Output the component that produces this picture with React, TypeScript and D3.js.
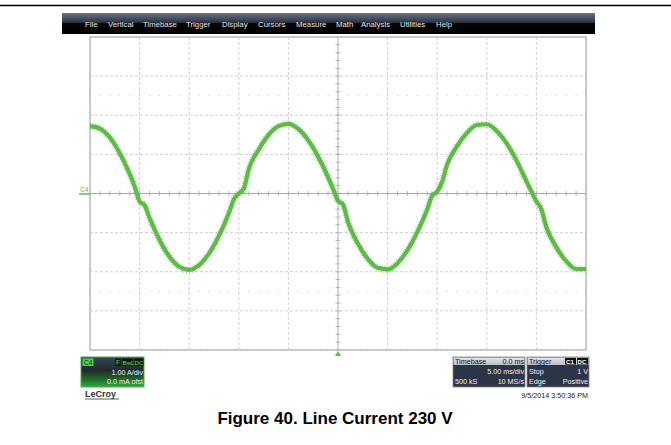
import React from "react";
import * as d3 from "d3";

// Time (ms) across 10 divisions of 5 ms/div, current in A (1 A/div)
const timeMs = [0,1,2,3,4,4.5,5,5.5,6,7,8,9,10,11,12,13,14,14.5,15,15.5,16,17,18,19,20,21,22,23,24,24.5,25,25.5,26,27,28,29,30,31,32,33,34,34.5,35,35.5,36,37,38,39,40,41,42,43,44,44.5,45,45.5,46,47,48,49,50];
const currentA = [1.72,1.66,1.43,1.03,0.50,0.18,-0.20,-0.30,-0.62,-1.18,-1.61,-1.87,-1.95,-1.83,-1.53,-1.08,-0.50,-0.15,0.0,0.12,0.62,1.12,1.50,1.72,1.78,1.65,1.36,0.94,0.42,0.12,-0.18,-0.28,-0.72,-1.28,-1.67,-1.90,-1.94,-1.78,-1.45,-0.98,-0.40,-0.05,0.05,0.30,0.74,1.21,1.55,1.75,1.77,1.60,1.28,0.84,0.31,0.05,-0.20,-0.40,-0.86,-1.37,-1.73,-1.93,-1.93];

const xDivTicks = [0,5,10,15,20,25,30,35,40,45,50];
const yDivTicks = [-4,-3,-2,-1,0,1,2,3,4];
const menuItems = ["File","Vertical","Timebase","Trigger","Display","Cursors","Measure","Math","Analysis","Utilities","Help"];
const menuX = [85,108,143,186,222,258,296,336,361,400,436];
const caption = "Figure 40. Line Current 230 V";

const W = 671, H = 445;
const GREEN = "#60b949";
const FONT = "'Liberation Sans', Arial, sans-serif";

export default function App() {
  const x = d3.scaleLinear().domain([0, 50]).range([90, 586]);
  const y = d3.scaleLinear().domain([-4, 4]).range([350, 37]);
  const pts = timeMs.map((t, i) => [t, currentA[i]] as [number, number]);
  const line = d3.line<[number, number]>().x(d => x(d[0])).y(d => y(d[1])).curve(d3.curveMonotoneX);
  const path = line(pts) || "";

  const minorX = d3.range(0, 50.001, 1); // 1/5 div
  const minorY = d3.range(-4, 4.001, 0.2);

  return (
    <svg width={W} height={H} style={{ position: "absolute", left: 0, top: 0, background: "#fff" }} fontFamily={FONT}>
      <defs>
        <linearGradient id="menuG" x1="0" y1="0" x2="0" y2="1">
          <stop offset="0" stopColor="#6a7488" />
          <stop offset="0.45" stopColor="#2c3240" />
          <stop offset="0.5" stopColor="#050505" />
          <stop offset="1" stopColor="#000" />
        </linearGradient>
        <linearGradient id="chG" x1="0" y1="0" x2="0" y2="1">
          <stop offset="0" stopColor="#3a4656" />
          <stop offset="0.45" stopColor="#1f2a2e" />
          <stop offset="0.75" stopColor="#1f6a2c" />
          <stop offset="1" stopColor="#2fae3a" />
        </linearGradient>
        <linearGradient id="hdrG" x1="0" y1="0" x2="0" y2="1">
          <stop offset="0" stopColor="#e4e7ec" />
          <stop offset="1" stopColor="#b8bdc6" />
        </linearGradient>
        <clipPath id="plotClip"><rect x={90} y={37} width={496} height={313} /></clipPath>
      </defs>

      <line x1={0} x2={W} y1={5.5} y2={5.5} stroke="#000" strokeWidth={1.5} />

      {/* Menu bar */}
      <rect x={62} y={13} width={533} height={21} fill="url(#menuG)" />
      {menuItems.map((m, i) => (
        <text key={m} x={menuX[i]} y={27} fontSize={7.8} fill="#e6e6e6">{m}</text>
      ))}

      {/* Grid */}
      {xDivTicks.map(t => (
        <line key={"gx" + t} x1={x(t)} x2={x(t)} y1={37} y2={350} stroke="#c4c4c4" strokeWidth={0.8} strokeDasharray="3 2" />
      ))}
      {yDivTicks.map(v => (
        <line key={"gy" + v} x1={90} x2={586} y1={y(v)} y2={y(v)} stroke="#c4c4c4" strokeWidth={0.8} strokeDasharray="3 2" />
      ))}
      {[-2.5, 2.5].map(v => minorX.map(t => (
        <rect key={"d" + v + "_" + t} x={x(t) - 0.5} y={y(v) - 0.5} width={1} height={1} fill="#c4c4c4" />
      )))}
      <line x1={90} x2={586} y1={y(0)} y2={y(0)} stroke="#a8a8a8" strokeWidth={1.2} />
      <line x1={x(25)} x2={x(25)} y1={37} y2={350} stroke="#bdbdbd" strokeWidth={1} />
      {minorX.map(t => (
        <line key={"tx" + t} x1={x(t)} x2={x(t)} y1={y(0) - 2.5} y2={y(0) + 2.5} stroke="#a8a8a8" strokeWidth={0.8} />
      ))}
      {minorY.map(v => (
        <line key={"ty" + v} x1={x(25) - 2.5} x2={x(25) + 2.5} y1={y(v)} y2={y(v)} stroke="#a8a8a8" strokeWidth={0.8} />
      ))}
      <rect x={90} y={37} width={496} height={313} fill="none" stroke="#bdbdbd" strokeWidth={1.5} />

      {/* Trace */}
      <g clipPath="url(#plotClip)">
        <path d={path} fill="none" stroke={GREEN} strokeWidth={4.2} strokeLinejoin="round" />
        <path d={path} fill="none" stroke={GREEN} strokeWidth={7} strokeDasharray="0.7 1.7" opacity={0.7} />
      </g>

      {/* C4 marker */}
      <text x={80} y={192} fontSize={6.5} fill={GREEN}>C4</text>
      <line x1={79} x2={90} y1={194} y2={194} stroke={GREEN} strokeWidth={1.5} />
      <path d={`M${x(25) - 3},${356} L${x(25)},${351} L${x(25) + 3},${356} Z`} fill={GREEN} />

      {/* Channel box */}
      <rect x={81} y={357} width={63} height={30} fill="url(#chG)" stroke="#4cae4c" strokeWidth={1} />
      <rect x={82.5} y={358.5} width={11} height={7.5} fill="#4fd04a" />
      <text x={84} y={365} fontSize={6.5} fill="#103010">C4</text>
      <rect x={115} y={358.5} width={6} height={7.5} fill="#101810" />
      <text x={116} y={365} fontSize={6.5} fill="#5de05a">F</text>
      <rect x={122} y={358.5} width={11} height={7.5} fill="#101810" />
      <text x={122.5} y={365} fontSize={6.2} fill="#5de05a">BwL</text>
      <rect x={134} y={358.5} width={9.5} height={7.5} fill="#101810" />
      <text x={134.5} y={365} fontSize={6.2} fill="#5de05a">DC</text>
      <text x={143} y={375} fontSize={7.2} fill="#f0f0f0" textAnchor="end">1.00 A/div</text>
      <text x={143} y={384} fontSize={7.2} fill="#f0f0f0" textAnchor="end">0.0 mA ofst</text>
      <text x={85} y={397} fontSize={9} fill="#333" fontWeight="bold">LeCroy</text>
      <line x1={85} x2={119} y1={399} y2={399} stroke="#333" strokeWidth={0.8} />

      {/* Timebase box */}
      <rect x={453} y={357} width={72} height={30} fill="#2c3447" stroke="#888" strokeWidth={0.8} />
      <rect x={453.5} y={357.5} width={71} height={7.5} fill="url(#hdrG)" />
      <text x={455} y={364} fontSize={7.2} fill="#111">Timebase</text>
      <text x={524} y={364} fontSize={7.2} fill="#111" textAnchor="end">0.0 ms</text>
      <text x={524} y={374} fontSize={7.2} fill="#f0f0f0" textAnchor="end">5.00 ms/div</text>
      <text x={455} y={384} fontSize={7.2} fill="#f0f0f0">500 kS</text>
      <text x={524} y={384} fontSize={7.2} fill="#f0f0f0" textAnchor="end">10 MS/s</text>

      {/* Trigger box */}
      <rect x={527} y={357} width={62} height={30} fill="#2c3447" stroke="#888" strokeWidth={0.8} />
      <rect x={527.5} y={357.5} width={61} height={7.5} fill="url(#hdrG)" />
      <text x={529} y={364} fontSize={7.2} fill="#111">Trigger</text>
      <rect x={565} y={358} width={11} height={6.5} fill="#111" />
      <text x={566} y={364} fontSize={6.2} fill="#fff" fontWeight="bold">C1</text>
      <rect x={577} y={358} width={11} height={6.5} fill="#111" />
      <text x={577.5} y={364} fontSize={6.2} fill="#fff" fontWeight="bold">DC</text>
      <text x={529} y={374} fontSize={7.2} fill="#f0f0f0">Stop</text>
      <text x={588} y={374} fontSize={7.2} fill="#f0f0f0" textAnchor="end">1 V</text>
      <text x={529} y={384} fontSize={7.2} fill="#f0f0f0">Edge</text>
      <text x={588} y={384} fontSize={7.2} fill="#f0f0f0" textAnchor="end">Positive</text>

      <text x={588} y={398} fontSize={7.2} fill="#222" textAnchor="end">9/5/2014 3:50:36 PM</text>

      {/* Caption */}
      <text x={335} y={424} fontSize={17} fontWeight="bold" fill="#000" textAnchor="middle">{caption}</text>
    </svg>
  );
}
